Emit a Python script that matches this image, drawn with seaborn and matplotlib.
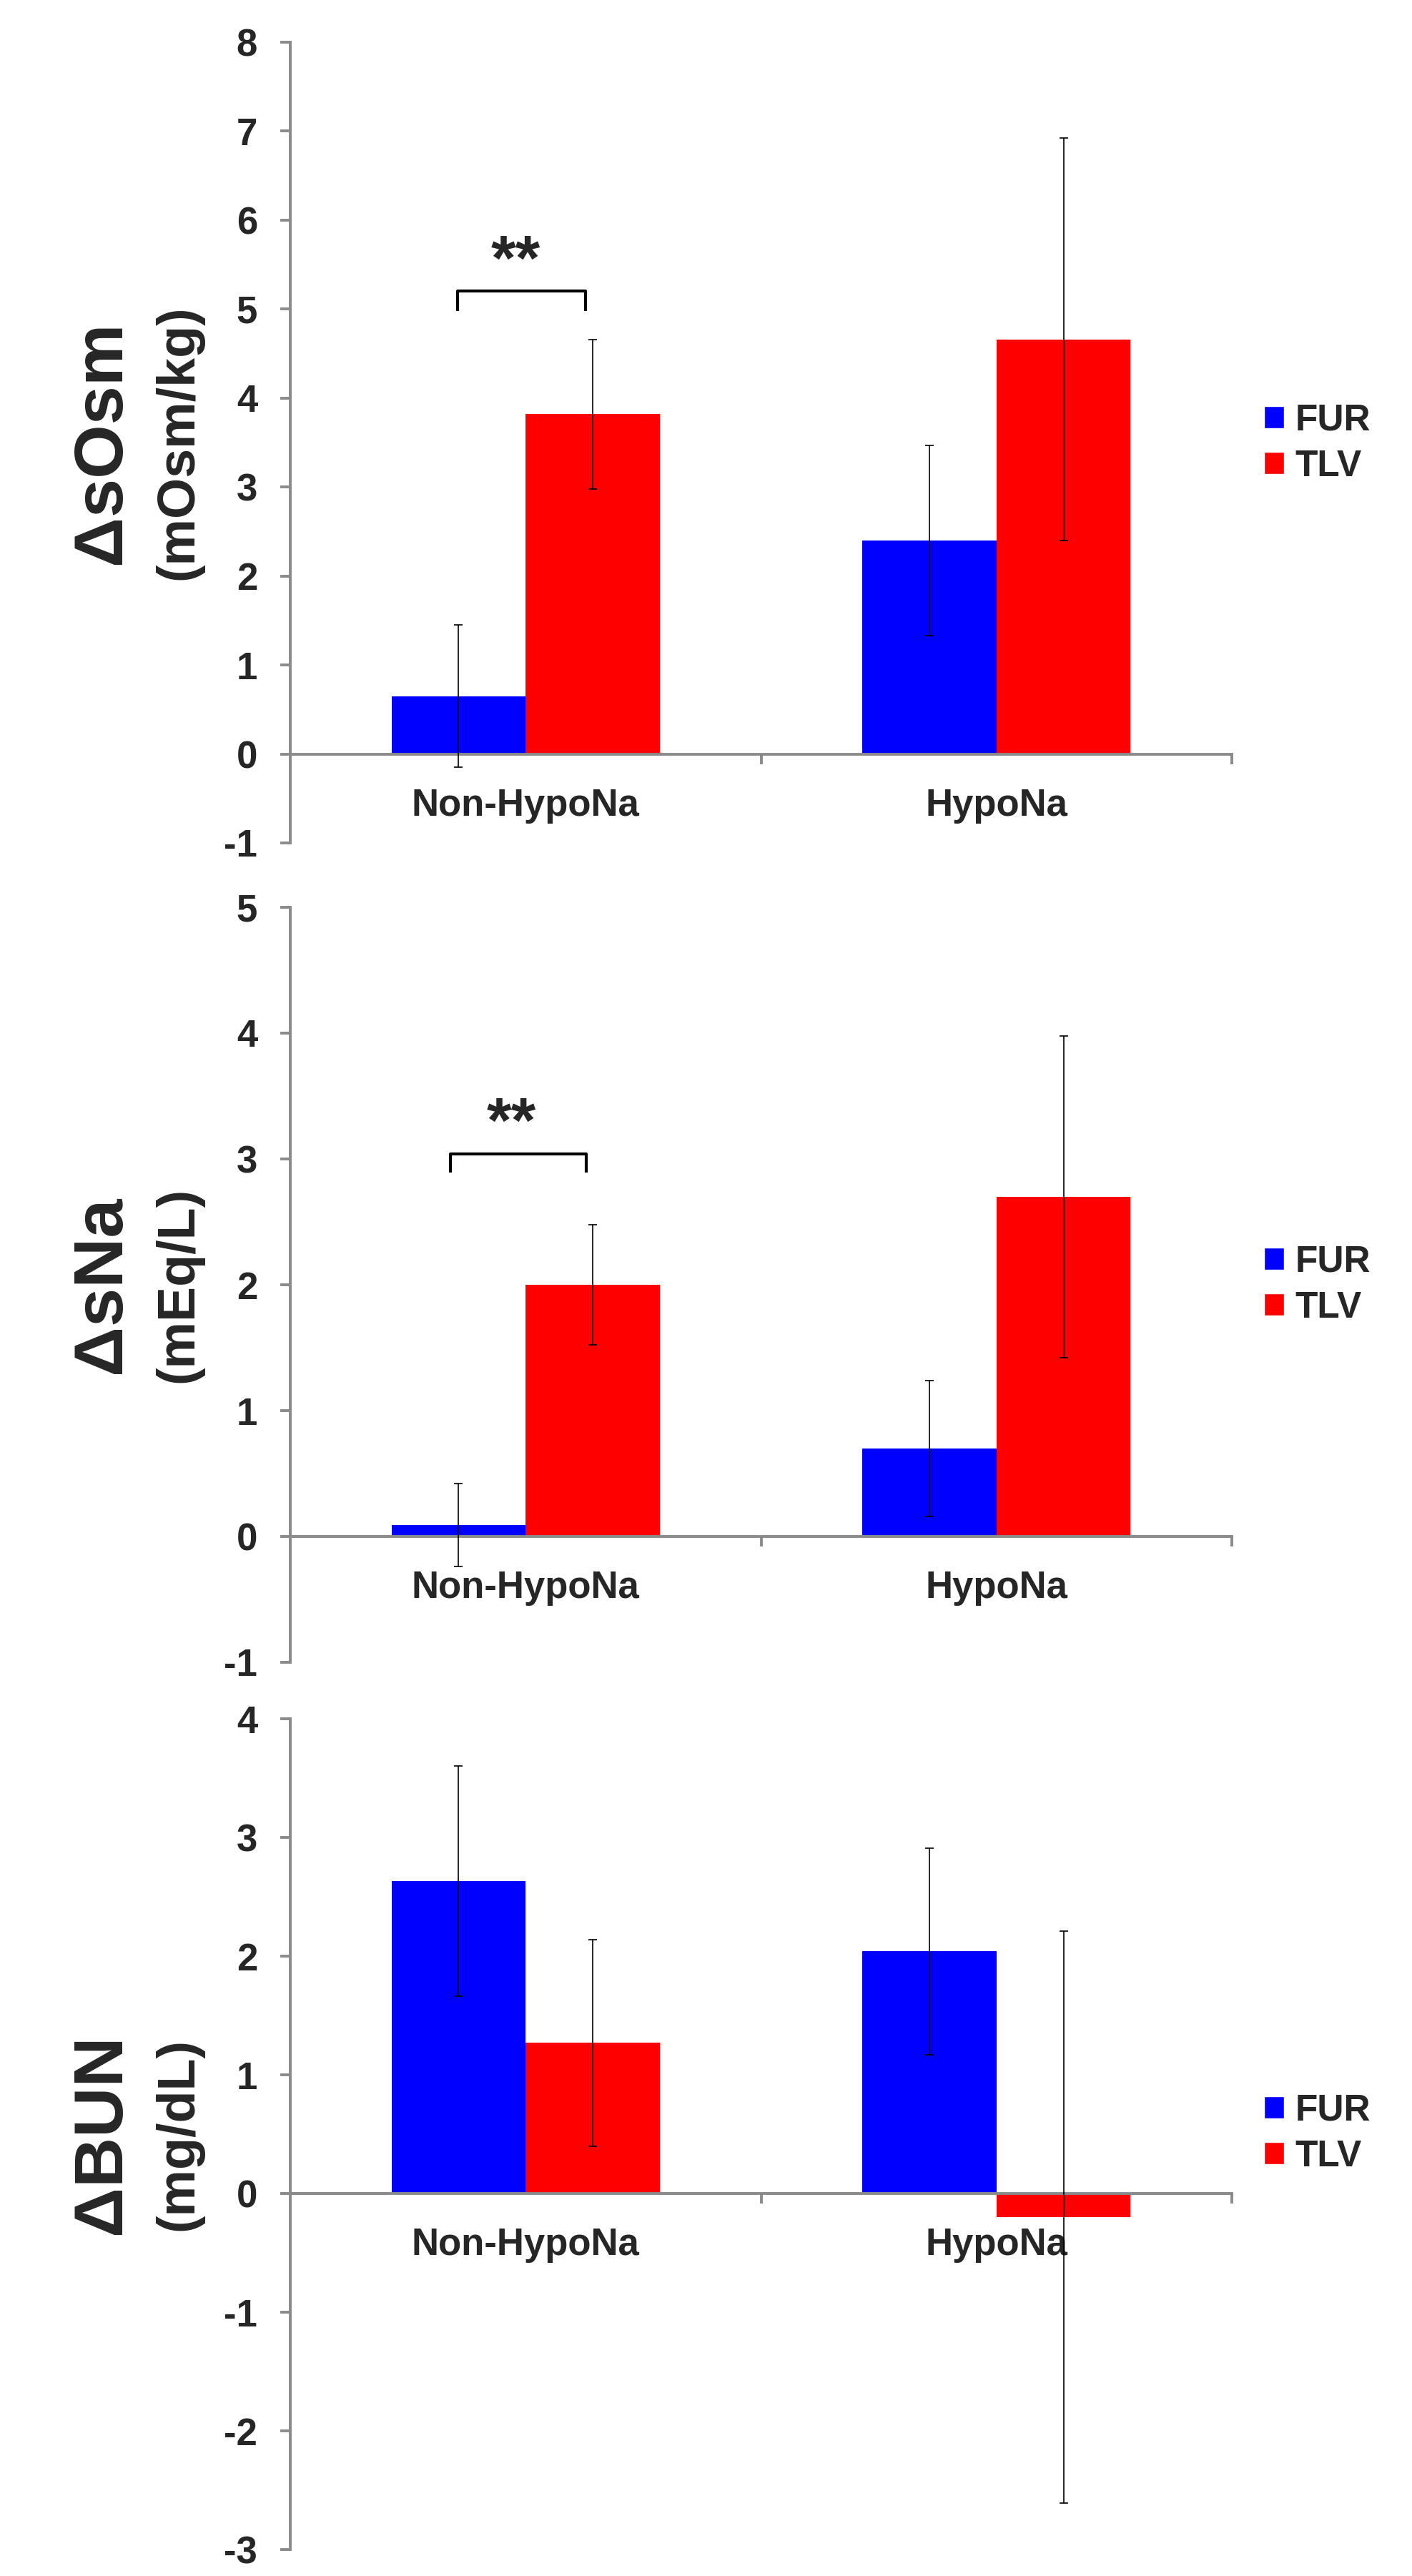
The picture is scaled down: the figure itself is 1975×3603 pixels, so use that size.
import matplotlib
matplotlib.use("Agg")
import matplotlib.pyplot as plt
from matplotlib.patches import Patch
import pandas as pd
import seaborn as sns

categories = ["Non-HypoNa", "HypoNa"]
groups = ["FUR", "TLV"]
palette = {"FUR": "#0000FF", "TLV": "#FF0000"}

# panel 1: serum osmolality change
osm_fur = [0.65, 2.40]
osm_tlv = [3.82, 4.66]
osm_fur_err = [0.80, 1.07]
osm_tlv_err = [0.84, 2.26]

# panel 2: serum sodium change
na_fur = [0.09, 0.70]
na_tlv = [2.00, 2.70]
na_fur_err = [0.33, 0.54]
na_tlv_err = [0.48, 1.28]

# panel 3: BUN change
bun_fur = [2.63, 2.04]
bun_tlv = [1.27, -0.20]
bun_fur_err = [0.97, 0.87]
bun_tlv_err = [0.87, 2.41]

GRAY = "#8a8a8a"

sns.set_style("white")
plt.rcParams["font.family"] = ["Liberation Sans", "DejaVu Sans"]
plt.rcParams["font.weight"] = "bold"
plt.rcParams["axes.unicode_minus"] = False

W, H = 1975, 3603
fig = plt.figure(figsize=(W / 100, H / 100), dpi=100)


def make_df(fur, tlv, fur_err, tlv_err):
    rows = []
    for i, c in enumerate(categories):
        rows.append({"group": c, "drug": "FUR", "value": fur[i], "err": fur_err[i]})
        rows.append({"group": c, "drug": "TLV", "value": tlv[i], "err": tlv_err[i]})
    return pd.DataFrame(rows)


def draw_panel(rect, df, ylim, main_label, unit_label, legend_y, bracket=None):
    ax = fig.add_axes(rect)
    sns.barplot(data=df, x="group", y="value", hue="drug", order=categories,
                hue_order=groups, palette=palette, width=0.57, errorbar=None,
                saturation=1, linewidth=0, legend=False, ax=ax)

    # error bars from the bar centres seaborn drew
    for drug, cont in zip(groups, ax.containers):
        sub = df[df["drug"] == drug].set_index("group").loc[categories]
        xs = [b.get_x() + b.get_width() / 2 for b in cont]
        ax.errorbar(xs, sub["value"], yerr=sub["err"], fmt="none",
                    ecolor="black", elinewidth=1.2, capsize=4.5, capthick=1.2,
                    zorder=5)

    ax.set_xlim(-0.5, 1.5)
    ax.set_ylim(*ylim)
    ax.set_yticks(range(ylim[0], ylim[1] + 1))
    ax.set_xlabel("")
    ax.set_ylabel("")

    for s in ["top", "right"]:
        ax.spines[s].set_visible(False)
    ax.spines["bottom"].set_position(("data", 0))
    for s in ["left", "bottom"]:
        ax.spines[s].set_color(GRAY)
        ax.spines[s].set_linewidth(2.8)

    ax.set_xticks([0, 1])
    ax.set_xticklabels(categories, fontsize=38, fontweight="bold")
    ax.set_xticks([0.5, 1.5], minor=True)
    ax.tick_params(axis="x", which="major", bottom=True, length=0, pad=34)
    ax.tick_params(axis="x", which="minor", bottom=True, length=10, width=2.8,
                   color=GRAY, direction="out")
    ax.tick_params(axis="y", which="major", left=True, length=10, width=2.8,
                   color=GRAY, direction="out", labelsize=38, pad=23)
    for t in ax.get_yticklabels():
        t.set_fontweight("bold")

    if bracket is not None:
        x0, x1, y_leg, y_top, star_x, star_y = bracket
        ax.plot([x0, x0, x1, x1], [y_leg, y_top, y_top, y_leg], color="black",
                lw=3.0, solid_joinstyle="round", solid_capstyle="butt")
        ax.text(star_x, star_y, "**", ha="center", va="center", fontsize=64,
                fontweight="bold")

    pos = ax.get_position()
    yc = (pos.y0 + pos.y1) / 2
    fig.text(143 / W, yc, main_label, rotation=90, ha="center", va="center",
             fontsize=70, fontweight="bold")
    fig.text(250 / W, yc, unit_label, rotation=90, ha="center", va="center",
             fontsize=53, fontweight="bold")

    handles = [Patch(facecolor=palette[g], label=g) for g in groups]
    fig.legend(handles=handles, loc="center left",
               bbox_to_anchor=(1768 / W, 1 - legend_y / H), frameon=False,
               prop={"size": 37, "weight": "bold"}, handlelength=0.55,
               handleheight=0.55, handletextpad=0.3, labelspacing=0.3,
               borderpad=0, borderaxespad=0)
    return ax


left = 406 / W
width = (1723 - 406) / W


def rect(top_px, bottom_px):
    return [left, 1 - bottom_px / H, width, (bottom_px - top_px) / H]


draw_panel(rect(59, 1179), make_df(osm_fur, osm_tlv, osm_fur_err, osm_tlv_err),
           (-1, 8), "\u0394sOsm", "(mOsm/kg)", 620,
           bracket=(-0.144, 0.127, 4.98, 5.2, -0.021, 5.52))
draw_panel(rect(1269, 2325), make_df(na_fur, na_tlv, na_fur_err, na_tlv_err),
           (-1, 5), "\u0394sNa", "(mEq/L)", 1797,
           bracket=(-0.16, 0.129, 2.89, 3.04, -0.03, 3.27))
draw_panel(rect(2404, 3566), make_df(bun_fur, bun_tlv, bun_fur_err, bun_tlv_err),
           (-3, 4), "\u0394BUN", "(mg/dL)", 2984)

fig.savefig("out.png", dpi=100)
